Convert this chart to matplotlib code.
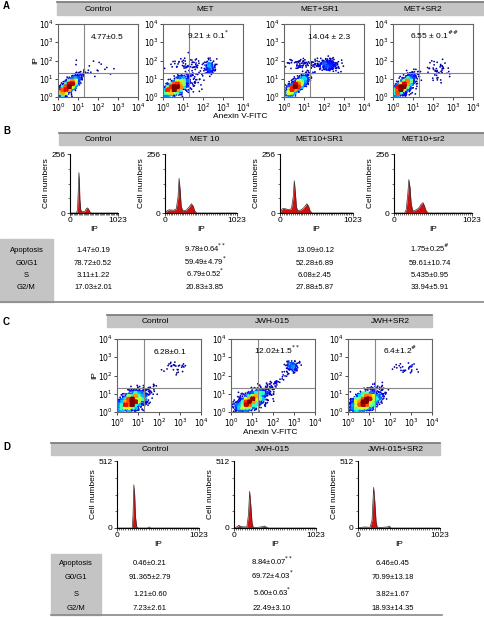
import numpy as np
import matplotlib
matplotlib.use('Agg')
import matplotlib.pyplot as plt
from matplotlib.patches import Rectangle

W, H = 485, 617
plt.rcParams['font.family'] = ['Liberation Sans', 'DejaVu Sans']

# ---- data -------------------------------------------------------------------
a_titles = ['Control', 'MET', 'MET+SR1', 'MET+SR2']
a_values = ['4.77±0.5', '9.21 ± 0.1$^{*}$', '14.04 ± 2.3', '6.55 ± 0.1$^{\\#\\#}$']
b_titles = ['Control', 'MET 10', 'MET10+SR1', 'MET10+sr2']
c_titles = ['Control', 'JWH-015', 'JWH+SR2']
c_values = ['6.28±0.1', '12.02±1.5$^{**}$', '6.4±1.2$^{\\#}$']
d_titles = ['Control', 'JWH-015', 'JWH-015+SR2']

row_names = ['Apoptosis', 'G0/G1', 'S', 'G2/M']
b_table = [['1.47±0.19', '9.78±0.64$^{**}$', '13.09±0.12', '1.75±0.25$^{\\#}$'],
           ['78.72±0.52', '59.49±4.79$^{*}$', '52.28±6.89', '59.61±10.74'],
           ['3.11±1.22', '6.79±0.52$^{*}$', '6.08±2.45', '5.435±0.95'],
           ['17.03±2.01', '20.83±3.85', '27.88±5.87', '33.94±5.91']]
d_table = [['0.46±0.21', '8.84±0.07$^{**}$', '6.46±0.45'],
           ['91.365±2.79', '69.72±4.03$^{*}$', '70.99±13.18'],
           ['1.21±0.60', '5.60±0.63$^{*}$', '3.82±1.67'],
           ['7.23±2.61', '22.49±3.10', '18.93±14.35']]

# scatter clouds, log10 units: (n, mean_x, mean_y, sd_x, sd_y, corr)
a_clouds = [[(1300, 0.5, 0.55, 0.3, 0.3, 0.8), (15, 1.9, 1.6, 0.5, 0.25, 0)],
            [(1300, 0.55, 0.5, 0.36, 0.3, 0.7), (120, 1.0, 0.6, 0.45, 0.3, 0.3),
             (70, 1.3, 1.8, 0.6, 0.2, 0), (110, 2.35, 1.6, 0.12, 0.2, 0)],
            [(1200, 0.55, 0.55, 0.3, 0.3, 0.8), (70, 0.9, 1.8, 0.4, 0.15, 0),
             (200, 2.2, 1.75, 0.3, 0.18, 0)],
            [(1200, 0.45, 0.55, 0.3, 0.32, 0.8), (130, 0.75, 0.6, 0.22, 0.32, 0.3),
             (45, 2.3, 1.5, 0.3, 0.3, 0)]]
c_clouds = [[(1400, 0.65, 0.55, 0.38, 0.32, 0.55), (30, 2.8, 2.5, 0.3, 0.2, 0)],
            [(1400, 0.95, 0.6, 0.38, 0.32, 0.65), (110, 2.9, 2.5, 0.15, 0.15, 0),
             (35, 2.0, 1.5, 0.4, 0.4, 0.8)],
            [(1400, 0.8, 0.55, 0.38, 0.32, 0.55), (30, 2.8, 2.45, 0.3, 0.15, 0)]]

# histograms: channel positions and counts
b_hist_x = [[0, 140, 160, 175, 190, 200, 210, 230, 260, 320, 350, 375, 400, 425, 460, 1023],
            [0, 30, 60, 120, 160, 185, 200, 215, 230, 250, 300, 340, 375, 400, 420, 450, 1023],
            [0, 30, 50, 120, 160, 185, 200, 215, 230, 250, 300, 340, 375, 400, 420, 450, 1023],
            [0, 140, 160, 180, 195, 210, 225, 245, 270, 320, 350, 380, 400, 420, 450, 1023]]
b_hist_y = [[0, 0, 15, 90, 175, 140, 60, 12, 5, 8, 20, 22, 15, 5, 0, 0],
            [0, 10, 14, 12, 18, 70, 150, 100, 30, 10, 12, 25, 40, 30, 10, 0, 0],
            [0, 18, 20, 15, 18, 70, 140, 90, 25, 10, 14, 25, 40, 30, 10, 0, 0],
            [0, 0, 15, 80, 145, 110, 40, 10, 10, 20, 35, 45, 30, 10, 0, 0]]
d_hist_x = [[0, 190, 200, 210, 220, 230, 245, 265, 380, 400, 420, 1023],
            [0, 40, 60, 90, 160, 180, 195, 210, 225, 240, 300, 350, 380, 400, 430, 1023],
            [0, 50, 80, 150, 175, 195, 210, 225, 240, 300, 370, 390, 410, 1023]]
d_hist_y = [[0, 0, 100, 330, 260, 90, 10, 0, 0, 8, 0, 0],
            [0, 10, 20, 10, 8, 100, 280, 170, 40, 5, 5, 10, 15, 8, 0, 0],
            [0, 5, 8, 5, 60, 310, 200, 50, 5, 5, 8, 15, 0, 0]]

fig = plt.figure(figsize=(W / 100, H / 100), dpi=100)


def px_axes(x0, y0, w, h):
    return fig.add_axes([x0 / W, 1 - (y0 + h) / H, w / W, h / H])


def ftext(x, y, s, **kw):
    fig.text(x / W, 1 - y / H, s, **kw)


def header(x0, x1, y0, h, centers, titles):
    fig.patches.append(Rectangle((x0 / W, 1 - (y0 + h) / H), (x1 - x0) / W, h / H,
                                 transform=fig.transFigure, color='#c4c4c4', zorder=0))
    fig.add_artist(plt.Line2D([x0 / W, x1 / W], [1 - y0 / H] * 2, color='#777777', lw=1.2))
    for c, t in zip(centers, titles):
        ftext(c, y0 + h / 2 + 2.2, t, ha='center', va='baseline', fontsize=6)


def scatter_panel(ax, clouds, label, seed):
    # event clouds are drawn from the cluster descriptions above
    rng = np.random.default_rng(seed)
    xs, ys = [], []
    for n, mx, my, sx, sy, r in clouds:
        cov = [[sx ** 2, r * sx * sy], [r * sx * sy, sy ** 2]]
        p = rng.multivariate_normal([mx, my], cov, n)
        xs.append(p[:, 0]); ys.append(p[:, 1])
    x = np.concatenate(xs)
    y = np.concatenate(ys)
    keep = (x > 0.03) & (x < 3.97) & (y > 0.03) & (y < 3.97)
    x, y = x[keep], y[keep]
    hist, ex, ey = np.histogram2d(x, y, bins=25, range=[[0, 4], [0, 4]])
    ix = np.clip((x / 4 * 25).astype(int), 0, 24)
    iy = np.clip((y / 4 * 25).astype(int), 0, 24)
    d = hist[ix, iy]
    o = np.argsort(d)
    ax.scatter(x[o], y[o], c=d[o], cmap='jet', s=1.6, lw=0, vmin=0, vmax=d.max() * 0.85)
    ax.set_xlim(0, 4); ax.set_ylim(0, 4)
    ax.axvline(1.3, color='#888888', lw=0.8)
    ax.axhline(1.3, color='#888888', lw=0.8)
    ax.set_xticks(range(5)); ax.set_yticks(range(5))
    ax.set_xticklabels(['$10^{%d}$' % i for i in range(5)], fontsize=5.5)
    ax.set_yticklabels(['$10^{%d}$' % i for i in range(5)], fontsize=5.5)
    ax.tick_params(length=2, width=0.5, pad=1)
    for s in ax.spines.values():
        s.set_color('#666666'); s.set_linewidth(0.8)
    ax.text(3.3, 3.2, label, ha='right', va='baseline', fontsize=6)


def hist_panel(ax, xs, ys, ymax):
    ax.fill_between(xs, ys, color='#d01010', lw=0)
    ax.plot(xs, ys, color='#303030', lw=0.5)
    ax.set_xlim(0, 1023); ax.set_ylim(0, ymax)
    ax.set_xticks([0, 1023]); ax.set_yticks([0, ymax])
    ax.set_xticks(np.linspace(0, 1023, 40), minor=True)
    ax.set_yticks([ymax / 4, ymax / 2, ymax * 3 / 4], minor=True)
    ax.tick_params(labelsize=6, length=2, width=0.5, pad=1)
    ax.tick_params(which='minor', length=1.2, width=0.4)
    for s in ['top', 'right']:
        ax.spines[s].set_visible(False)
    ax.set_xlabel('IP', fontsize=6, labelpad=1)
    ax.set_ylabel('Cell numbers', fontsize=6, labelpad=1)


def table(x0, x1, gray_w, rows_y, cols_x, values, top, bottom):
    fig.patches.append(Rectangle((x0 / W, 1 - bottom / H), gray_w / W, (bottom - top) / H,
                                 transform=fig.transFigure, color='#c4c4c4', zorder=0))
    fig.add_artist(plt.Line2D([x0 / W, x1 / W], [1 - bottom / H] * 2, color='#888888', lw=1.2))
    for ry, name, row in zip(rows_y, row_names, values):
        ftext(x0 + gray_w / 2, ry + 2, name, ha='center', va='baseline', fontsize=5.5)
        for cx, v in zip(cols_x, row):
            ftext(cx, ry + 2, v, ha='center', va='baseline', fontsize=5.5)


# ---- A ----
ftext(3, 6, 'A', fontsize=7, fontweight='bold', va='center')
header(57, 485, 2, 13, [98, 205, 320, 423], a_titles)
a_pos = [58, 163, 284, 393]
for i, x0 in enumerate(a_pos):
    ax = px_axes(x0, 24, 80, 73)
    scatter_panel(ax, a_clouds[i], a_values[i], i)
    if i == 0:
        ax.set_ylabel('IP', fontsize=6, labelpad=0)
ftext(240, 117, 'Anexin V-FITC', ha='center', va='center', fontsize=6)

# ---- B ----
ftext(3, 131, 'B', fontsize=7, fontweight='bold', va='center')
header(59, 485, 133, 12, [98, 205, 320, 423], b_titles)
b_pos = [(70, 48), (165, 72), (280, 73), (394, 78)]
for i, (x0, w) in enumerate(b_pos):
    ax = px_axes(x0, 154, w, 59)
    hist_panel(ax, b_hist_x[i], b_hist_y[i], 256)
table(0, 485, 53, [250, 263, 275, 287], [93, 205, 315, 430], b_table, 239, 302)

# ---- C ----
ftext(3, 322, 'C', fontsize=7, fontweight='bold', va='center')
header(107, 432, 315, 12, [155, 272, 390], c_titles)
c_pos = [117, 231, 348]
for i, x0 in enumerate(c_pos):
    ax = px_axes(x0, 339, 84, 73)
    scatter_panel(ax, c_clouds[i], c_values[i], 10 + i)
    if i == 0:
        ax.set_ylabel('IP', fontsize=6, labelpad=0)
ftext(270, 432, 'Anexin V-FITC', ha='center', va='center', fontsize=6)

# ---- D ----
ftext(3, 447, 'D', fontsize=7, fontweight='bold', va='center')
header(51, 440, 443, 12, [155, 272, 396], d_titles)
d_pos = [117, 234, 358]
for i, x0 in enumerate(d_pos):
    ax = px_axes(x0, 461, 82, 67)
    hist_panel(ax, d_hist_x[i], d_hist_y[i], 512)
table(51, 442, 50, [563, 577, 594, 608], [150, 272, 393], d_table, 554, 615)

fig.savefig('out.png', dpi=100)
